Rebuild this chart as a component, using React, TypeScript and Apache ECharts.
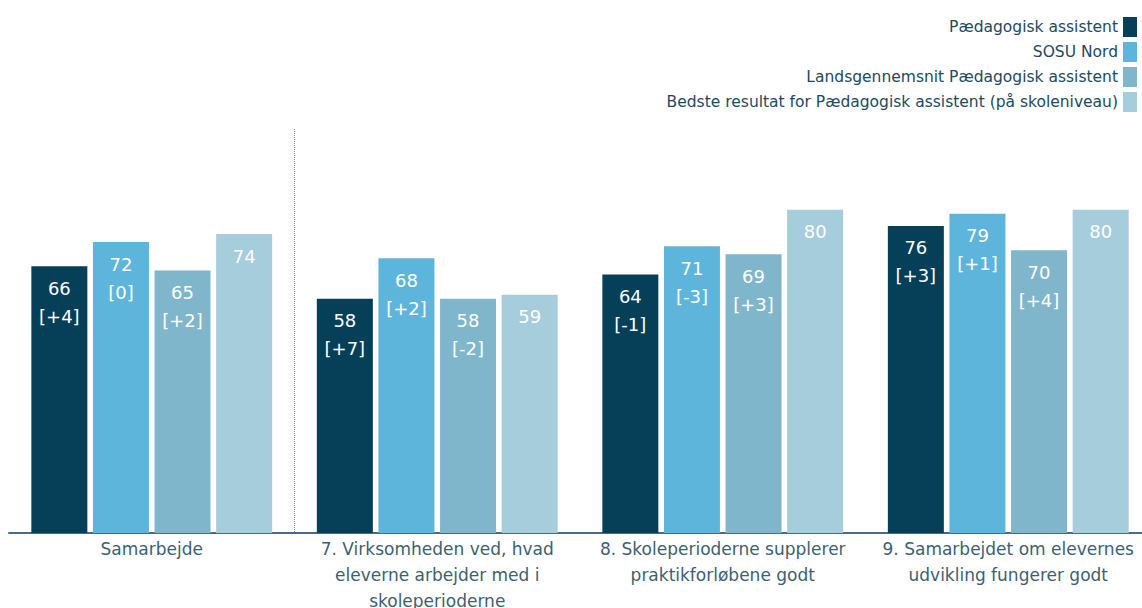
import React, { useEffect, useRef } from "react";
import * as echarts from "echarts";

const categories = [
  "Samarbejde",
  "7. Virksomheden ved, hvad\neleverne arbejder med i\nskoleperioderne",
  "8. Skoleperioderne supplerer\npraktikforløbene godt",
  "9. Samarbejdet om elevernes\nudvikling fungerer godt",
];

const seriesNames = [
  "Pædagogisk assistent",
  "SOSU Nord",
  "Landsgennemsnit Pædagogisk assistent",
  "Bedste resultat for Pædagogisk assistent (på skoleniveau)",
];

const paedagogiskValues = [66, 58, 64, 76];
const paedagogiskDeltas = ["+4", "+7", "-1", "+3"];
const sosuValues = [72, 68, 71, 79];
const sosuDeltas = ["0", "+2", "-3", "+1"];
const landsValues = [65, 58, 69, 70];
const landsDeltas = ["+2", "-2", "+3", "+4"];
const bedsteValues = [74, 59, 80, 80];
const bedsteDeltas: (string | null)[] = [null, null, null, null];

const colors = ["#063f58", "#5eb5db", "#80b6cc", "#a5cddb"];
const FONT = "DejaVu Sans";

export default function App() {
  const ref = useRef<HTMLDivElement>(null);
  useEffect(() => {
    if (!ref.current) return;
    const chart = echarts.init(ref.current, null, { renderer: "svg" });
    const valueSets = [paedagogiskValues, sosuValues, landsValues, bedsteValues];
    const deltaSets = [paedagogiskDeltas, sosuDeltas, landsDeltas, bedsteDeltas];
    const series = seriesNames.map((name, si) => ({
      name,
      type: "bar",
      barWidth: 56,
      barGap: "10%",
      itemStyle: { color: colors[si] },
      data: valueSets[si],
      label: {
        show: true,
        position: "insideTop",
        distance: 8,
        color: "#ffffff",
        fontFamily: FONT,
        fontSize: 18,
        lineHeight: 28,
        formatter: (p: any) => {
          const d = deltaSets[si][p.dataIndex];
          return d === null ? String(p.value) : `${p.value}\n[${d}]`;
        },
      },
    }));
    chart.setOption({
      animation: false,
      textStyle: { fontFamily: FONT },
      legend: seriesNames.map((name, i) => ({
        data: [name],
        right: 0,
        top: 12 + i * 25,
        align: "right",
        itemWidth: 14,
        itemHeight: 20,
        icon: "rect",
        selectedMode: false,
        textStyle: { color: "#1d4a5e", fontSize: 15.5, fontFamily: FONT },
      })),
      grid: {
        left: 9,
        right: -9,
        top: 129,
        bottom: 75,
        outerBoundsMode: "none",
      },
      xAxis: {
        type: "category",
        data: categories,
        axisLine: { lineStyle: { color: "#4a6a88", width: 2 } },
        axisTick: { show: false },
        axisLabel: {
          interval: 0,
          color: "#3d5f70",
          fontSize: 17,
          lineHeight: 26,
          margin: 3,
          fontFamily: FONT,
        },
        splitLine: {
          show: true,
          interval: (i: number) => i <= 1,
          showMinLine: false,
          showMaxLine: false,
          lineStyle: { color: "#888888", type: "dotted", width: 1 },
        },
      },
      yAxis: {
        type: "value",
        min: 0,
        max: 100,
        show: false,
        splitLine: { show: false },
      },
      series,
    });
    return () => chart.dispose();
  }, []);
  return (
    <div
      ref={ref}
      style={{ position: "absolute", left: 0, top: 0, width: 1142, height: 608 }}
    />
  );
}
